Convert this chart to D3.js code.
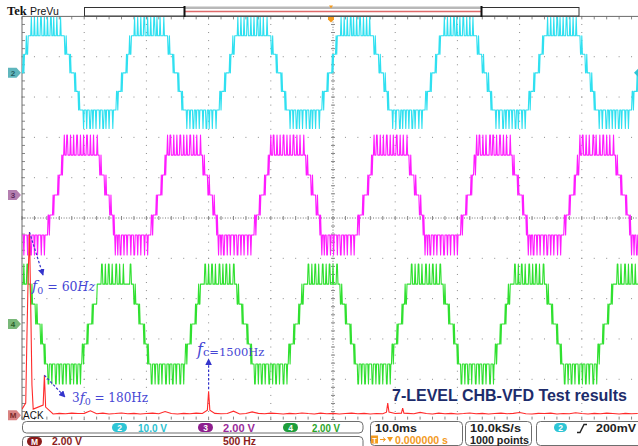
<!DOCTYPE html>
<html><head><meta charset="utf-8">
<script src="https://cdn.jsdelivr.net/npm/d3@7/dist/d3.min.js"></script>
<style>
html,body{margin:0;padding:0;background:#fff;}
svg{display:block;}
</style></head><body>
<svg id="scope" width="638" height="446"></svg>
<script>
// ---- acquisition / display settings ----
const horizDivs = 10;
const vertDivs = 10;
const timePerDivMs = 10;
const sampleRateHz = 10000;
const recordPoints = 1000;
const fftHzPerDiv = 500;

// ---- analog channels 2, 3, 4 (7-level CHB inverter outputs) ----
const channelNames = ["2", "3", "4"];
const channelColors = ["#2fe0f0", "#ff1cff", "#30e030"];
const voltsPerDiv = [10, 2, 2];
const offsetDiv = [3.6, 0.57, -2.63];
const voltsPerLevel = [4.6, 0.99, 0.99];
const crossingMs = [-0.27, 5.39, 10.85];      // rising zero crossing of each phase
const periodMs = 16.59;
const stepEdgesMs = [0.4, 1.2];               // 0->1 and 1->2 level edges after a crossing

// PWM pulses to level +3 (after rising crossing) and -3 (after falling crossing): [start ms, width ms]
const peakPulses = [
  [[1.75,0.1],[2.25,0.1],[2.75,0.1],[3.25,0.2],[3.8,0.1],[4.3,0.1],[4.8,0.2],[5.35,0.1],[5.85,0.1],[6.4,0.1]],
  [[1.35,0.1],[1.75,0.2],[2.35,0.1],[2.85,0.1],[3.4,0.2],[3.95,0.1],[4.5,0.1],[5.0,0.2],[5.6,0.1],[6.1,0.1],[6.7,0.1]],
  [[1.9,0.2],[2.5,0.1],[3.05,0.2],[3.65,0.1],[4.2,0.2],[4.8,0.1],[5.35,0.2],[5.95,0.1],[6.5,0.2]]
];
const troughPulses = [
  [[1.8,0.1],[2.3,0.1],[2.85,0.2],[3.35,0.1],[3.85,0.1],[4.4,0.1],[4.9,0.2],[5.4,0.1],[5.95,0.1],[6.5,0.1]],
  [[1.3,0.1],[1.7,0.1],[2.1,0.2],[2.7,0.1],[3.2,0.1],[3.8,0.1],[4.3,0.2],[4.9,0.1],[5.4,0.1],[6.0,0.1],[6.5,0.1]],
  [[1.6,0.2],[2.2,0.1],[2.75,0.2],[3.35,0.1],[3.9,0.2],[4.5,0.1],[5.05,0.2],[5.65,0.1],[6.2,0.2],[6.8,0.1]]
];
// short switching glitches on the intermediate steps: [time ms from rising crossing, width ms, level]
const stepChatter = [[-1.0,0.1,-2],[-0.3,0.1,-1],[0.5,0.1,0],[0.95,0.1,2],[7.3,0.1,2],[8.05,0.1,1],[8.85,0.1,0],[9.3,0.1,-2]];

// ---- math channel: FFT of the line voltage ----
const mathVoltsPerDiv = 2;
const mathOffsetDiv = -4.89;
const peakHz = [30,40,50,60,70,80,90, 170,180,190, 1490,1500,1510, 2930,2940,2950, 3050,3060,3070];
const peakV  = [0.6,4.0,7.0,9.08,5.5,1.5,0.3, 0.5,1.98,0.4, 0.25,1.19,0.25, 0.15,0.6,0.15, 0.1,0.35,0.1];
const floorStepHz = 50;
const noiseFloorV = [
  0.30,0.20,0.12,0.08,0.10,0.06,0.09,0.07,0.10,0.08,
  0.09,0.22,0.07,0.10,0.06,0.08,0.11,0.07,0.09,0.06,
  0.08,0.10,0.07,0.18,0.08,0.06,0.09,0.07,0.10,0.08,
  0.06,0.09,0.07,0.08,0.20,0.06,0.08,0.16,0.09,0.07,
  0.10,0.08,0.06,0.09,0.07,0.11,0.08,0.06,0.10,0.07,
  0.09,0.06,0.08,0.10,0.07,0.09,0.06,0.08,0.07,0.10,
  0.08,0.06,0.09,0.07,0.14,0.08,0.06,0.10,0.07,0.09,
  0.06,0.08,0.11,0.07,0.09,0.06,0.08,0.10,0.07,0.09,
  0.13,0.07,0.06,0.09,0.08,0.10,0.06,0.08,0.07,0.12,
  0.08,0.06,0.09,0.07,0.10,0.08,0.06,0.09,0.07,0.08
];

// ---- status readouts ----
const chanReadouts = [["2","10.0 V"],["3","2.00 V"],["4","2.00 V"]];
const chanBadgeColors = ["#2ec5d5","#8e1f8e","#1e9e3c"];
const chanTextColors = ["#2bbfd0","#9a2a9a","#2aa52a"];
const mathReadout = ["M","2.00 V","500 Hz"];
const timeReadout = ["10.0ms","0.000000 s"];
const acqReadout = ["10.0kS/s","1000 points"];
const trigReadout = ["2","200mV"];
const titleText = "7-LEVEL CHB-VFD Test results";

// ================= drawing =================
const svg = d3.select("#scope");
svg.append("rect").attr("width",638).attr("height",446).attr("fill","#fff");

const xDiv = d3.scaleLinear().domain([0, horizDivs]).range([22, 644]);
const yDiv = d3.scaleLinear().domain([-vertDivs/2, vertDivs/2]).range([419.6, 16.4]);
const xTime = d3.scaleLinear().domain([0, timePerDivMs*horizDivs]).range(xDiv.range());
const xFreq = d3.scaleLinear().domain([0, fftHzPerDiv*horizDivs]).range(xDiv.range());
const yLevel = (ch, lv) => yDiv(offsetDiv[ch] + lv*voltsPerLevel[ch]/voltsPerDiv[ch]);
const yMath = v => yDiv(mathOffsetDiv + v/mathVoltsPerDiv);

const defs = svg.append("defs");
defs.append("clipPath").attr("id","grat").append("rect")
  .attr("x",xDiv(0)).attr("y",yDiv(vertDivs/2)).attr("width",xDiv(horizDivs)-xDiv(0)).attr("height",yDiv(-vertDivs/2)-yDiv(vertDivs/2));
defs.append("marker").attr("id","arr").attr("viewBox","0 0 10 10").attr("refX",9).attr("refY",5)
  .attr("markerWidth",5.5).attr("markerHeight",5.5).attr("orient","auto")
  .append("path").attr("d","M0,0L10,5L0,10z").attr("fill","#3434cc");

// ---- graticule ----
const grid = svg.append("g");
const gridColor = "#8c8c8c";
for (let i = 1; i < horizDivs; i++) {
  if (i === horizDivs/2) continue;
  for (let j = 0; j <= vertDivs*5; j++) {
    grid.append("rect").attr("x",xDiv(i)-0.5).attr("y",yDiv(-vertDivs/2 + j/5)-0.5).attr("width",1).attr("height",1).attr("fill",gridColor);
  }
}
for (let j = -vertDivs/2 + 1; j < vertDivs/2; j++) {
  if (j === 0) continue;
  for (let i = 0; i <= horizDivs*5; i++) {
    grid.append("rect").attr("x",xDiv(i/5)-0.5).attr("y",yDiv(j)-0.5).attr("width",1).attr("height",1).attr("fill",gridColor);
  }
}
// centre cross
grid.append("line").attr("x1",xDiv(0)).attr("x2",xDiv(horizDivs)).attr("y1",yDiv(0)).attr("y2",yDiv(0))
  .attr("stroke","#777").attr("stroke-dasharray","1,1.6");
grid.append("line").attr("x1",xDiv(horizDivs/2)).attr("x2",xDiv(horizDivs/2)).attr("y1",yDiv(vertDivs/2)).attr("y2",yDiv(-vertDivs/2))
  .attr("stroke","#777").attr("stroke-dasharray","1,1.6");
for (let i = 0; i <= horizDivs*5; i++) {
  const x = xDiv(i/5);
  grid.append("line").attr("x1",x).attr("x2",x).attr("y1",yDiv(0)-2).attr("y2",yDiv(0)+2).attr("stroke","#888");
  grid.append("line").attr("x1",x).attr("x2",x).attr("y1",yDiv(vertDivs/2)).attr("y2",yDiv(vertDivs/2)+3).attr("stroke","#888");
  grid.append("line").attr("x1",x).attr("x2",x).attr("y1",yDiv(-vertDivs/2)-3).attr("y2",yDiv(-vertDivs/2)).attr("stroke","#888");
}
for (let j = 0; j <= vertDivs*5; j++) {
  const y = yDiv(-vertDivs/2 + j/5);
  grid.append("line").attr("x1",xDiv(horizDivs/2)-2).attr("x2",xDiv(horizDivs/2)+2).attr("y1",y).attr("y2",y).attr("stroke","#888");
  grid.append("line").attr("x1",xDiv(0)).attr("x2",xDiv(0)+3).attr("y1",y).attr("y2",y).attr("stroke","#888");
}
grid.append("line").attr("x1",xDiv(0)).attr("x2",xDiv(0)).attr("y1",yDiv(vertDivs/2)).attr("y2",yDiv(-vertDivs/2)).attr("stroke","#6a6a6a");
grid.append("line").attr("x1",xDiv(0)).attr("x2",638).attr("y1",yDiv(vertDivs/2)).attr("y2",yDiv(vertDivs/2)).attr("stroke","#6a6a6a");

// ---- channel traces ----
const mod = (a, m) => ((a % m) + m) % m;
function levelAt(ch, t) {
  const H = periodMs/2, [e1, e2] = stepEdgesMs;
  const u = mod(t - crossingMs[ch] + 2, periodMs) - 2;
  let lv;
  if (u < -e2) lv = -2; else if (u < -e1) lv = -1; else if (u < e1) lv = 0; else if (u < e2) lv = 1;
  else if (u < H - e2) lv = 2; else if (u < H - e1) lv = 1; else if (u < H + e1) lv = 0;
  else if (u < H + e2) lv = -1; else lv = -2;
  const p = mod(t - crossingMs[ch], periodMs), n = mod(t - crossingMs[ch] - H, periodMs);
  for (const [s, w] of peakPulses[ch]) if (p >= s && p < s + w) lv = 3;
  for (const [s, w] of troughPulses[ch]) if (n >= s && n < s + w) lv = -3;
  for (const [s, w, l] of stepChatter) if (u >= s && u < s + w) lv = l;
  return lv;
}
const dtMs = 1000 / sampleRateHz;
const traces = svg.append("g").attr("clip-path","url(#grat)");
channelNames.forEach((name, ch) => {
  const pts = d3.range(recordPoints + 1).map(i => ({t: i*dtMs, lv: levelAt(ch, i*dtMs)}));
  const line = d3.line().x(d => xTime(d.t)).y(d => yLevel(ch, d.lv));
  traces.append("path").attr("d", line(pts)).attr("fill","none")
    .attr("stroke", channelColors[ch]).attr("stroke-width",1.1).attr("stroke-linejoin","round");
});

// ---- FFT math trace ----
const peakSet = peakHz.map((f, i) => ({f, v: peakV[i]}));
const floorPts = noiseFloorV.map((v, i) => ({f: i*floorStepHz, v}))
  .filter(d => !peakHz.some(f => Math.abs(f - d.f) <= 25));
const spectrum = floorPts.concat(peakSet).sort((a, b) => a.f - b.f);
traces.append("path")
  .attr("d", d3.line().x(d => xFreq(d.f)).y(d => yMath(d.v))(spectrum))
  .attr("fill","none").attr("stroke","#ff2b2b").attr("stroke-width",1.1);

// ---- channel ground markers ----
const markers = [
  {label:"2", y: yDiv(offsetDiv[0]), fill:"#5fb6bd", txt:"#245b5f"},
  {label:"3", y: yDiv(offsetDiv[1]), fill:"#b47fb0", txt:"#5e2a5e"},
  {label:"4", y: yDiv(offsetDiv[2]), fill:"#79b879", txt:"#2a5e2a"},
  {label:"M", y: yDiv(mathOffsetDiv), fill:"#d98484", txt:"#7a2a2a"}
];
markers.forEach(m => {
  svg.append("path").attr("d",`M8,${m.y-5}H16.5L21,${m.y}L16.5,${m.y+5}H8Z`).attr("fill",m.fill);
  svg.append("text").attr("x",13).attr("y",m.y+3).attr("text-anchor","middle")
    .attr("font-family","Liberation Sans, Arial, sans-serif").attr("font-size",8).attr("font-weight","bold")
    .attr("fill",m.txt).text(m.label);
});
// trigger level marker at the right edge
svg.append("path").attr("d",`M638,${yDiv(offsetDiv[0])-4}L634,${yDiv(offsetDiv[0])}L638,${yDiv(offsetDiv[0])+4}Z`).attr("fill","#2ec5d5");
svg.append("text").attr("x",23).attr("y",418.5).attr("font-family","Liberation Sans, Arial, sans-serif")
  .attr("font-size",10).attr("fill","#111").text("ACK");

// ---- top status: logo + record bar ----
svg.append("text").attr("x",7).attr("y",15).attr("font-family","Liberation Serif, Times New Roman, serif")
  .attr("font-size",12.5).attr("font-weight","bold").attr("fill","#111").text("Tek");
svg.append("text").attr("x",30).attr("y",14.5).attr("font-family","Liberation Sans, Arial, sans-serif")
  .attr("font-size",10.5).attr("fill","#111").text("PreVu");
svg.append("rect").attr("x",84.5).attr("y",7.5).attr("width",494.5).attr("height",8.5).attr("fill","#fff").attr("stroke","#333");
svg.append("rect").attr("x",184).attr("y",6.5).attr("width",297).attr("height",2.5).attr("fill","#b8b8b8");
svg.append("line").attr("x1",185).attr("x2",481).attr("y1",11.5).attr("y2",11.5).attr("stroke","#e06a6a").attr("stroke-width",1.6);
svg.append("rect").attr("x",183.5).attr("y",6).attr("width",2).attr("height",11).attr("fill","#111");
svg.append("rect").attr("x",480.5).attr("y",6).attr("width",2).attr("height",11).attr("fill","#111");
svg.append("path").attr("d","M329,5.5H333L331,8.5Z").attr("fill","#f39a1e");
svg.append("path").attr("d","M328,17H334V19.5L331,22.5L328,19.5Z").attr("fill","#f39a1e");

// ---- annotations ----
const annBlue = "#4646d4";
const arrows = [
  [xFreq(60), yMath(9.08), 43, 275],
  [xFreq(180), yMath(1.98), 65, 397],
  [xFreq(1500), yMath(1.19)-2, xFreq(1500), 359]
];
arrows.forEach(([x1,y1,x2,y2]) => {
  svg.append("line").attr("x1",x1).attr("y1",y1).attr("x2",x2).attr("y2",y2)
    .attr("stroke","#3434cc").attr("stroke-width",1.2).attr("stroke-dasharray","2.5,1.8").attr("marker-end","url(#arr)");
});
const serif = "DejaVu Serif, Liberation Serif, serif";
const t1 = svg.append("text").attr("x",32).attr("y",291).attr("font-family",serif).attr("font-size",12.5).attr("fill",annBlue);
t1.append("tspan").attr("font-style","italic").attr("font-size",14).text("f");
t1.append("tspan").attr("dy",3).attr("font-size",9.5).text("0");
t1.append("tspan").attr("dy",-3).text(" = 60");
t1.append("tspan").attr("font-style","italic").text("Hz");
const t2 = svg.append("text").attr("x",72).attr("y",402).attr("font-family",serif).attr("font-size",12).attr("fill",annBlue);
t2.append("tspan").text("3");
t2.append("tspan").attr("font-style","italic").attr("font-size",13.5).text("f");
t2.append("tspan").attr("dy",3).attr("font-size",9.5).text("0");
t2.append("tspan").attr("dy",-3).text(" = 180Hz");
const t3 = svg.append("text").attr("x",197).attr("y",355).attr("font-family",serif).attr("fill",annBlue);
t3.append("tspan").attr("font-style","italic").attr("font-size",16).text("f");
t3.append("tspan").attr("font-size",11.5).attr("dy",1).text("c=1500Hz");

svg.append("text").attr("x",392).attr("y",401).attr("font-family","Liberation Sans, Arial, sans-serif")
  .attr("font-size",16).attr("font-weight","bold").attr("fill","#1d2c6b").text(titleText);

// ---- bottom readouts ----
const sans = "Liberation Sans, Arial, sans-serif";
const bar = svg.append("g");
const box = (x, y, w, h) => bar.append("rect").attr("x",x).attr("y",y).attr("width",w).attr("height",h)
  .attr("rx",4).attr("fill","#fff").attr("stroke","#6e6e6e");
box(22.5, 421.5, 340.5, 11.5);
box(22.5, 436.5, 340.5, 16);
box(370.5, 421.5, 92, 24);
box(465.5, 421.5, 66, 24);
box(536.5, 421.5, 130, 24);
const badge = (x, y, w, fill, label) => {
  bar.append("rect").attr("x",x).attr("y",y).attr("width",w).attr("height",9).attr("rx",4.5).attr("fill",fill);
  bar.append("text").attr("x",x+w/2).attr("y",y+7.5).attr("text-anchor","middle").attr("font-family",sans)
    .attr("font-size",8.5).attr("font-weight","bold").attr("fill","#fff").text(label);
};
const label = (x, y, s, fill, len, size) => {
  const t = bar.append("text").attr("x",x).attr("y",y).attr("font-family",sans).attr("font-size",size || 11)
    .attr("font-weight","bold").attr("fill",fill).text(s);
  if (len) t.attr("textLength",len).attr("lengthAdjust","spacingAndGlyphs");
  return t;
};
const chanBadgeX = [112, 198, 283];
const chanTextX = [[138,29],[223,32],[312,28]];
chanReadouts.forEach(([n, s], i) => {
  badge(chanBadgeX[i], 423, 15, chanBadgeColors[i], n);
  label(chanTextX[i][0], 432, s, chanTextColors[i], chanTextX[i][1]);
});
badge(27, 437, 15, "#8b1c1c", mathReadout[0]);
label(52, 444.5, mathReadout[1], "#8b1c1c", 30, 10);
label(223, 444.5, mathReadout[2], "#8b1c1c", 33, 10);

label(375, 432, timeReadout[0], "#222", 42);
bar.append("rect").attr("x",371).attr("y",435.5).attr("width",7).attr("height",8).attr("fill","#f39a1e");
bar.append("text").attr("x",374.5).attr("y",442.5).attr("text-anchor","middle").attr("font-family",sans)
  .attr("font-size",7.5).attr("font-weight","bold").attr("fill","#fff").text("T");
bar.append("path").attr("d","M380,439.5H385M383,437.5L385.5,439.5L383,441.5").attr("stroke","#f39a1e").attr("fill","none");
bar.append("path").attr("d","M387,437H393L390,442Z").attr("fill","#f39a1e");
label(395, 443.5, timeReadout[1], "#f39a1e", 53);

label(470, 432, acqReadout[0], "#222", 51);
label(470, 443.5, acqReadout[1], "#222", 59);

badge(554, 423, 13, "#2ec5d5", trigReadout[0]);
bar.append("path").attr("d","M577,432.5H580L584,424.5H587").attr("stroke","#222").attr("stroke-width",1.4).attr("fill","none");
label(596, 432, trigReadout[1], "#222", 40);
</script>
</body></html>
